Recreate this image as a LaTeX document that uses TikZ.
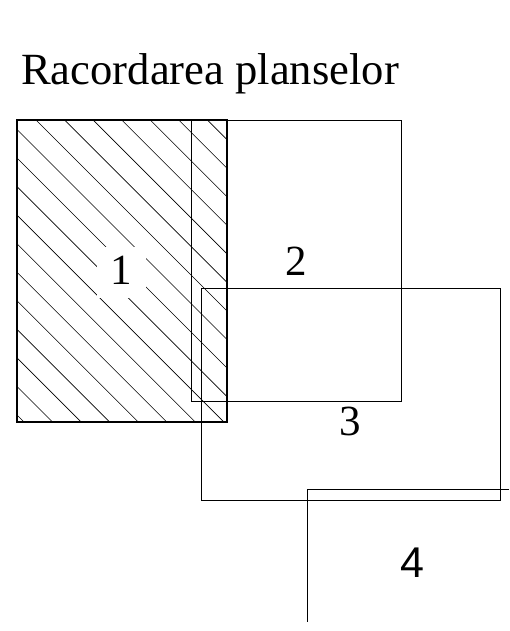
\documentclass[tikz,border=0pt]{standalone}
\usepackage{fontspec}
\setmainfont{Liberation Serif}
\newfontfamily\arialfont{Liberation Sans}
\begin{document}
\begin{tikzpicture}[x=1pt,y=-1pt,
  sheet/.style={draw=black,line width=0.8pt},
  mainsheet/.style={draw=black,line width=2pt},
  hatch/.style={draw=black,line width=0.6pt},
  num/.style={font=\fontsize{43}{43}\selectfont,inner sep=0pt},
  gapbox/.style={fill=white,minimum width=49pt,minimum height=51pt,inner sep=0pt}]
\useasboundingbox (0,0) rectangle (509,631);
% title
\node[anchor=base west,inner sep=0pt,font=\fontsize{44.6}{44.6}\selectfont] (title) at (21,85) {Racordarea planselor};
% hatching of sheet 1
\begin{scope}
  \clip (17,120) rectangle (227,422);
  \foreach \n in {0,...,18} {
    \pgfmathsetmacro\c{-398+28.55*\n}
    \draw[hatch] (\c+100,100) -- (\c+440,440);
  }
\end{scope}
\node[gapbox] (gap1) at (121.5,272.5) {};
\node[num] (l1) at (121.5,270) {1};
% sheets
\draw[mainsheet] (17,120) rectangle (227,422);
\draw[sheet] (191,120) rectangle (401,401);
\draw[sheet] (201,288) rectangle (500,500);
\coordinate (s4a) at (509,489);
\coordinate (s4b) at (307,489);
\coordinate (s4c) at (307,622);
\draw[sheet] (s4a) -- (s4b) -- (s4c);
% labels
\node[num] (l2) at (296,261) {2};
\node[num] (l3) at (350,421.7) {3};
\node[num,font=\arialfont\fontsize{43}{43}\selectfont] (l4) at (412,562.5) {4};
\end{tikzpicture}
\end{document}
